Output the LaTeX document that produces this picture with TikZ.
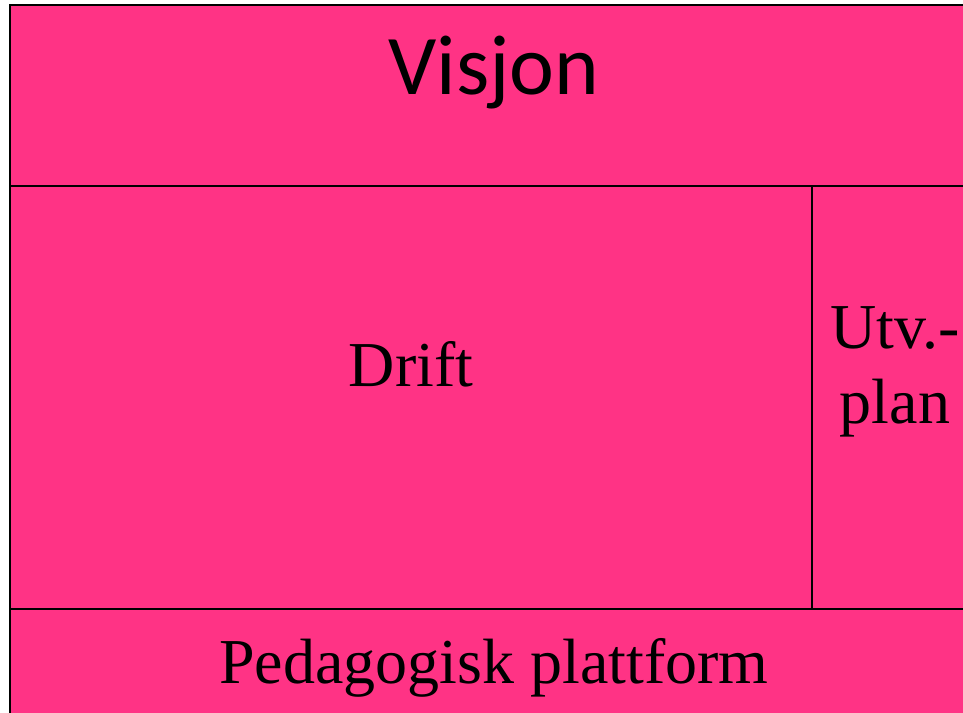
\documentclass[tikz,border=0pt]{standalone}
\usepackage{fontspec}
\setmainfont{Liberation Serif}
\newfontfamily\visfont{Carlito}
\definecolor{planpink}{RGB}{255,51,133}

\begin{document}
\begin{tikzpicture}[x=0.5pt, y=-0.5pt,
    felt/.style={draw=black, line width=1pt, fill=planpink},
    tekst/.style={font=\fontsize{32}{37.5}\selectfont, align=center}]
  \useasboundingbox (0,0) rectangle (963,712);
  \clip (0,0) rectangle (963,712);

  % boksene
  \draw[felt] (10,5) rectangle (990,186);
  \draw[felt] (10,186) rectangle (812,609);
  \draw[felt] (812,186) rectangle (990,609);
  \draw[felt] (10,609) rectangle (990,740);

  \node[font=\visfont\fontsize{42.5}{48}\selectfont] (visjon) at (494,73) {Visjon};
  \node[tekst] (drift) at (411,364) {Drift};
  \node[tekst] (utvplan) at (895,372) {Utv.-\\plan};
  \node[tekst] (plattform) at (494,668) {Pedagogisk plattform};
\end{tikzpicture}
\end{document}
